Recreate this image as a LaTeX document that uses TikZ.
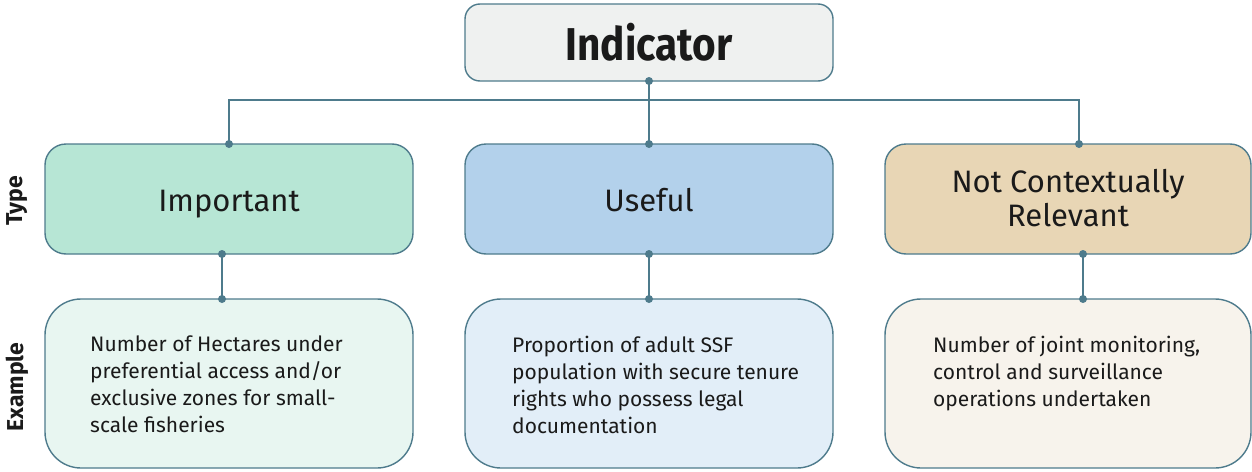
\documentclass[tikz,border=0pt]{standalone}
\usepackage{fontspec}
\usepackage{graphicx}
\setmainfont{Fira Sans}
\definecolor{edge}{HTML}{4E7B8C}
\definecolor{indfill}{HTML}{EFF1F0}
\definecolor{impfill}{HTML}{B7E6D5}
\definecolor{usefill}{HTML}{B3D1EB}
\definecolor{ncrfill}{HTML}{E8D6B5}
\definecolor{impex}{HTML}{E8F6F1}
\definecolor{useex}{HTML}{E2EEF8}
\definecolor{ncrex}{HTML}{F7F3EC}
\definecolor{txt}{HTML}{1A1A1A}
\tikzset{
  boxbase/.style={draw=edge, line width=1.4pt, inner sep=0pt},
  conn/.style={draw=edge, line width=1.8pt},
  dotmark/.style={circle, fill=edge, inner sep=0pt, minimum size=8pt},
  typetext/.style={text=txt, font=\fontsize{31}{34}\selectfont, align=center},
  extext/.style={text=txt, font=\fontsize{21}{27}\selectfont, align=left, inner sep=0pt, anchor=north west},
  sidelabel/.style={text=txt, font=\bfseries\fontsize{23}{26}\selectfont, rotate=90}
}
\begin{document}
\begin{tikzpicture}[x=1pt,y=-1pt]
\useasboundingbox (0,0) rectangle (1252,471);
% boxes
\draw[boxbase, fill=indfill, rounded corners=15pt] (465,4) rectangle (833,81);
\node[text=txt, font=\bfseries\fontsize{46}{50}\selectfont, anchor=base, inner sep=0pt] (ind) at (649,60) {\scalebox{0.88}[1]{Indicator}};
\coordinate (indb) at (649,81);

\draw[boxbase, fill=impfill, rounded corners=21pt] (45,144) rectangle (413,254);
\draw[boxbase, fill=usefill, rounded corners=21pt] (465,144) rectangle (833,254);
\draw[boxbase, fill=ncrfill, rounded corners=21pt] (885,144) rectangle (1251,254);
\node[typetext, anchor=base] (imp) at (229,211) {Important};
\node[typetext, anchor=base] (use) at (649,211) {Useful};
\node[typetext] (ncr) at (1068,198) {Not Contextually\\Relevant};

\draw[boxbase, fill=impex, rounded corners=36pt] (45,299) rectangle (413,468);
\draw[boxbase, fill=useex, rounded corners=36pt] (465,299) rectangle (833,468);
\draw[boxbase, fill=ncrex, rounded corners=36pt] (885,299) rectangle (1251,468);
\node[extext] (impx) at (90,336) {Number of Hectares under\\preferential access and/or\\exclusive zones for small-\\scale fisheries};
\node[extext] (usex) at (512,336) {Proportion of adult SSF\\population with secure tenure\\rights who possess legal\\documentation};
\node[extext] (ncrx) at (933,336) {Number of joint monitoring,\\control and surveillance\\operations undertaken};

\node[sidelabel] (typel) at (17,201) {Type};
\node[sidelabel] (exl) at (17,387) {Example};

% connector anchor points
\coordinate (impt) at (229,144);
\coordinate (uset) at (649,144);
\coordinate (ncrt) at (1079,144);
\coordinate (impb) at (222,254);
\coordinate (useb) at (649,254);
\coordinate (ncrb) at (1083,254);
\coordinate (impxt) at (222,299);
\coordinate (usext) at (649,299);
\coordinate (ncrxt) at (1083,299);
\coordinate (bus) at (649,100);

\draw[conn] (indb) -- (bus);
\draw[conn] (impt) |- (bus) -| (ncrt);
\draw[conn] (bus) -- (uset);
\draw[conn] (impb) -- (impxt);
\draw[conn] (useb) -- (usext);
\draw[conn] (ncrb) -- (ncrxt);
\foreach \p in {indb,impt,uset,ncrt,impb,useb,ncrb,impxt,usext,ncrxt}
  \node[dotmark] at (\p) {};
\end{tikzpicture}
\end{document}
